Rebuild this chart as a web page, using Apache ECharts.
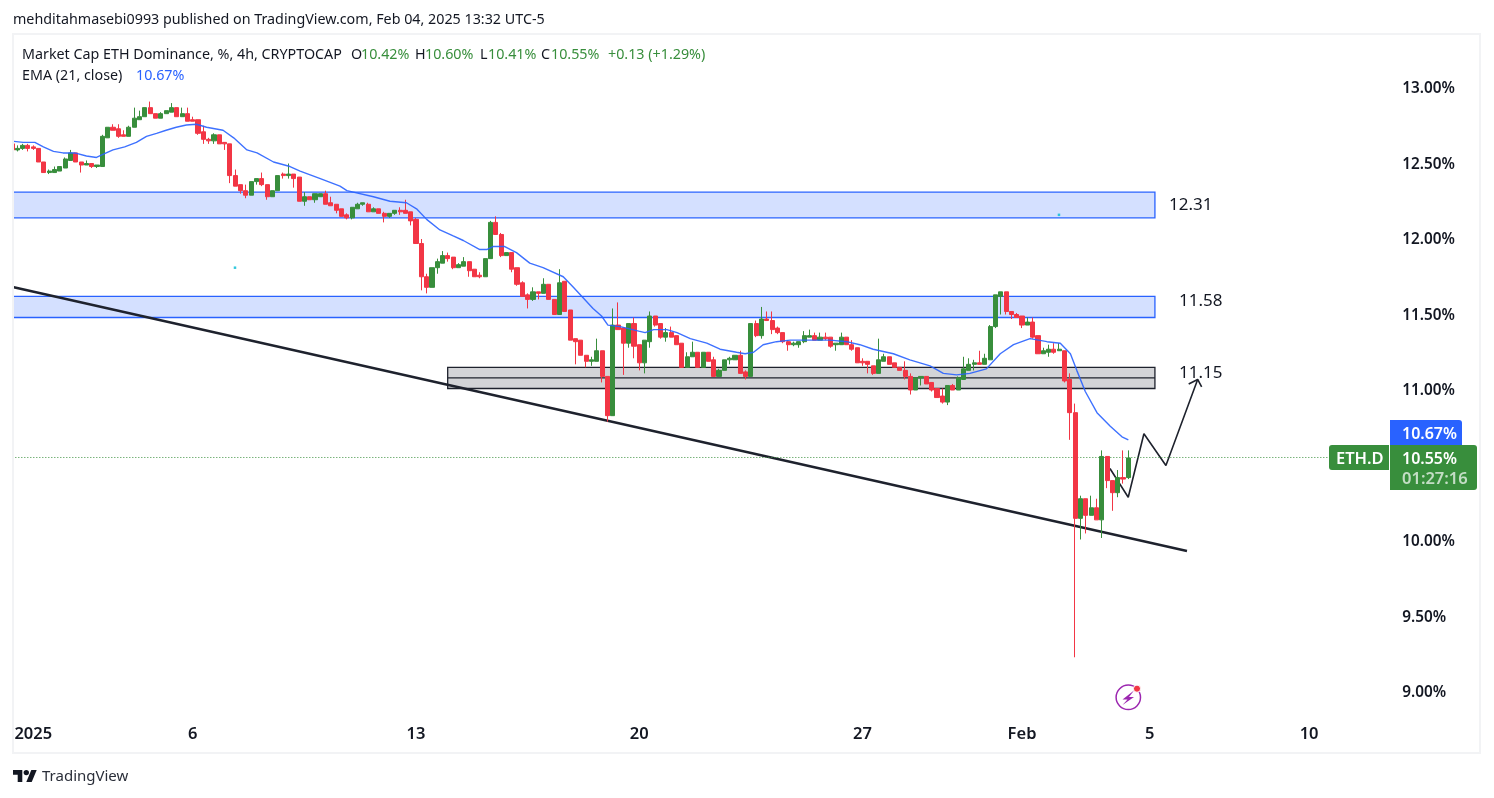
<!DOCTYPE html>
<html>
<head>
<meta charset="utf-8">
<title>ETH.D 4h</title>
<script src="https://cdn.jsdelivr.net/npm/echarts@6/dist/echarts.min.js"></script>
<style>
  html, body { margin: 0; padding: 0; background: #fff; }
  #chart { width: 1494px; height: 798px; }
</style>
</head>
<body>
<div id="chart"></div>
<script>
// 4h candles, bar 0 sits just left of the frame, Jan 1 is bar 4
var opens = [
  12.63,12.59,12.60,12.62,12.61,12.60,12.51,12.44,12.44,12.45,
  12.47,12.52,12.57,12.51,12.49,12.50,12.48,12.48,12.67,12.74,
  12.73,12.69,12.68,12.74,12.79,12.81,12.87,12.83,12.80,12.83,
  12.84,12.87,12.81,12.83,12.79,12.79,12.71,12.66,12.65,12.69,
  12.64,12.63,12.42,12.36,12.32,12.29,12.38,12.40,12.36,12.28,
  12.32,12.43,12.42,12.43,12.41,12.25,12.28,12.26,12.28,12.30,
  12.24,12.23,12.20,12.16,12.14,12.20,12.23,12.23,12.18,12.20,
  12.17,12.15,12.17,12.19,12.19,12.18,12.13,11.97,11.75,11.68,
  11.81,11.84,11.89,11.88,11.81,11.82,11.85,11.80,11.76,11.75,
  11.87,12.11,12.03,11.89,11.91,11.81,11.71,11.63,11.60,11.65,
  11.64,11.70,11.60,11.50,11.72,11.53,11.34,11.33,11.23,11.19,
  11.19,11.26,11.09,10.83,11.43,11.41,11.31,11.44,11.30,11.18,
  11.32,11.49,11.44,11.35,11.38,11.36,11.31,11.15,11.22,11.25,
  11.15,11.25,11.20,11.09,11.13,11.20,11.20,11.23,11.12,11.09,
  11.44,11.36,11.47,11.46,11.41,11.38,11.32,11.30,11.30,11.32,
  11.35,11.36,11.33,11.35,11.35,11.30,11.30,11.35,11.30,11.28,
  11.19,11.19,11.16,11.11,11.19,11.22,11.18,11.15,11.13,11.09,
  11.00,11.08,11.09,11.05,11.01,10.96,10.92,11.03,11.00,11.07,
  11.13,11.17,11.18,11.17,11.20,11.42,11.62,11.65,11.52,11.50,
  11.49,11.43,11.45,11.36,11.24,11.25,11.27,11.26,11.26,11.07,
  10.85,10.15,10.28,10.17,10.22,10.14,10.56,10.40,10.32,10.42,10.42
];
var closes = [
  12.59,12.60,12.62,12.60,12.60,12.51,12.44,12.45,12.46,12.48,
  12.53,12.57,12.51,12.49,12.50,12.48,12.49,12.68,12.74,12.72,
  12.68,12.68,12.74,12.80,12.81,12.87,12.83,12.80,12.83,12.85,
  12.87,12.81,12.83,12.78,12.78,12.70,12.66,12.65,12.69,12.63,
  12.63,12.42,12.35,12.32,12.29,12.38,12.40,12.36,12.28,12.32,
  12.42,12.42,12.43,12.40,12.25,12.28,12.26,12.30,12.30,12.23,
  12.22,12.19,12.15,12.14,12.21,12.23,12.24,12.18,12.20,12.17,
  12.15,12.17,12.19,12.18,12.17,12.12,11.97,11.75,11.68,11.81,
  11.85,11.89,11.87,11.81,11.83,11.85,11.79,11.75,11.75,11.87,
  12.11,12.03,11.89,11.91,11.80,11.70,11.62,11.60,11.65,11.64,
  11.70,11.60,11.50,11.71,11.52,11.33,11.32,11.23,11.19,11.20,
  11.26,11.09,10.83,11.43,11.40,11.31,11.44,11.29,11.18,11.33,
  11.49,11.43,11.35,11.38,11.35,11.30,11.15,11.22,11.25,11.15,
  11.25,11.19,11.09,11.13,11.20,11.21,11.23,11.11,11.09,11.44,
  11.36,11.47,11.46,11.40,11.38,11.32,11.30,11.31,11.32,11.36,
  11.36,11.33,11.35,11.34,11.29,11.31,11.35,11.30,11.27,11.18,
  11.18,11.17,11.11,11.20,11.22,11.17,11.15,11.13,11.09,11.00,
  11.08,11.09,11.04,11.00,10.95,10.92,11.03,11.00,11.08,11.14,
  11.17,11.18,11.17,11.21,11.42,11.63,11.65,11.52,11.50,11.48,
  11.43,11.45,11.35,11.24,11.26,11.27,11.25,11.27,11.06,10.85,
  10.15,10.28,10.17,10.22,10.14,10.56,10.40,10.32,10.42,10.41,10.55
];
var lows = [
  12.59,12.58,12.59,12.58,12.59,12.51,12.44,12.43,12.44,12.45,
  12.47,12.52,12.51,12.44,12.49,12.47,12.47,12.48,12.67,12.72,
  12.67,12.68,12.68,12.74,12.79,12.81,12.83,12.80,12.80,12.83,
  12.84,12.81,12.81,12.78,12.78,12.69,12.63,12.63,12.63,12.63,
  12.59,12.37,12.35,12.30,12.27,12.29,12.36,12.35,12.26,12.28,
  12.32,12.40,12.40,12.34,12.25,12.22,12.26,12.24,12.28,12.23,
  12.22,12.17,12.15,12.13,12.13,12.20,12.22,12.18,12.18,12.17,
  12.11,12.14,12.16,12.16,12.17,12.09,11.97,11.66,11.64,11.68,
  11.77,11.84,11.85,11.80,11.81,11.82,11.75,11.75,11.74,11.75,
  11.87,12.03,11.88,11.89,11.78,11.69,11.62,11.54,11.59,11.60,
  11.64,11.60,11.50,11.50,11.52,11.33,11.17,11.23,11.15,11.16,
  11.19,11.05,10.79,10.83,11.40,11.10,11.28,11.21,11.13,11.11,
  11.28,11.42,11.34,11.32,11.35,11.30,11.15,11.15,11.22,11.15,
  11.15,11.19,11.09,11.09,11.13,11.17,11.20,11.11,11.07,11.09,
  11.35,11.34,11.46,11.37,11.37,11.31,11.26,11.29,11.28,11.31,
  11.35,11.33,11.33,11.33,11.28,11.26,11.30,11.30,11.26,11.18,
  11.16,11.11,11.10,11.11,11.19,11.17,11.15,11.13,11.07,10.97,
  11.00,11.03,11.04,10.99,10.95,10.91,10.90,11.00,11.00,11.07,
  11.13,11.13,11.17,11.17,11.20,11.41,11.50,11.50,11.47,11.48,
  11.41,11.43,11.34,11.24,11.24,11.22,11.24,11.26,11.05,10.67,
  9.23,10.01,10.05,10.17,10.14,10.02,10.35,10.20,10.29,10.38,10.41
];
var highs = [
  12.63,12.62,12.63,12.63,12.62,12.60,12.51,12.46,12.48,12.48,
  12.54,12.59,12.57,12.51,12.52,12.50,12.49,12.69,12.74,12.76,
  12.76,12.72,12.75,12.87,12.85,12.87,12.91,12.83,12.84,12.85,
  12.90,12.87,12.87,12.87,12.81,12.79,12.75,12.67,12.70,12.69,
  12.64,12.63,12.46,12.36,12.36,12.38,12.40,12.44,12.36,12.32,
  12.42,12.44,12.50,12.43,12.41,12.31,12.28,12.30,12.30,12.32,
  12.28,12.23,12.20,12.17,12.21,12.24,12.24,12.24,12.21,12.20,
  12.18,12.17,12.19,12.21,12.26,12.18,12.14,12.00,11.77,11.81,
  11.87,11.92,11.91,11.88,11.84,11.88,11.85,11.80,11.78,11.87,
  12.12,12.15,12.04,11.91,11.91,11.81,11.72,11.64,11.68,11.65,
  11.74,11.70,11.60,11.80,11.72,11.53,11.34,11.33,11.23,11.22,
  11.34,11.26,11.09,11.54,11.58,11.41,11.44,11.48,11.30,11.33,
  11.52,11.49,11.44,11.41,11.42,11.36,11.31,11.25,11.32,11.25,
  11.25,11.25,11.22,11.14,11.20,11.22,11.23,11.26,11.13,11.44,
  11.46,11.55,11.52,11.52,11.42,11.38,11.33,11.32,11.32,11.39,
  11.40,11.38,11.38,11.38,11.35,11.31,11.38,11.35,11.33,11.28,
  11.21,11.19,11.16,11.34,11.24,11.22,11.18,11.15,11.19,11.11,
  11.08,11.09,11.09,11.05,11.01,11.01,11.03,11.04,11.09,11.22,
  11.21,11.20,11.26,11.24,11.43,11.63,11.65,11.65,11.52,11.51,
  11.49,11.48,11.48,11.36,11.28,11.30,11.31,11.31,11.26,11.11,
  10.91,10.30,10.28,10.30,10.28,10.60,10.56,10.40,10.47,10.60,10.60
];

// EMA 21
var emaBars = [-0.5,2.1,4.3,5.9,7.8,9.6,11.8,14,15.9,17.1,19,21.2,23.4,25.3,27.2,29,30.9,32.8,34.7,36.6,39.7,41.7,44.2,46.1,49.2,52.3,54.2,58,61.7,
  63,68,71.1,74.2,76.1,78,80.5,83,84.9,88,89.3,90.5,92.7,94.9,97.4,99.9,103.7,105.6,109.3,110.9,112.1,114.4,
  117.9,119.1,120.7,123.2,125.1,127.6,130.7,133.2,136.3,137.9,139.5,141.3,143.8,146.4,150.1,153.9,157,159.5,162,165.8,168.9,172.7,
  175.2,177.7,180.2,183.3,185.9,188.4,191.5,194.7,197.2,199.1,200.3,201.9,204.1,206.6,208.8,210];
var emaValues = [12.65,12.64,12.64,12.61,12.58,12.57,12.57,12.55,12.54,12.56,12.59,12.61,12.64,12.68,12.70,12.72,12.74,12.755,12.76,12.74,12.72,12.67,12.59,12.57,12.51,12.48,12.45,12.40,12.35,
  12.32,12.28,12.25,12.24,12.20,12.13,12.06,12.02,11.99,11.93,11.93,11.95,11.95,11.91,11.84,11.81,11.75,11.68,11.54,11.49,11.43,11.42,
  11.39,11.38,11.40,11.40,11.38,11.34,11.31,11.27,11.25,11.24,11.25,11.30,11.32,11.33,11.33,11.33,11.32,11.30,11.27,11.24,11.20,11.16,
  11.11,11.10,11.11,11.14,11.24,11.30,11.34,11.32,11.31,11.24,11.13,10.99,10.85,10.76,10.69,10.67];

// x axis
var tickBars = [4,34,76,118,160,190,214,244];
var tickLabels = ['2025','6','13','20','27','Feb','5','10'];
var barCount = 259;

// zones and drawings, x in bars, y in price
var blueZoneTops = [12.31,11.62];
var blueZoneBottoms = [12.14,11.48];
var zoneEndBar = 215;
var grayZoneStart = 81.96;
var grayZone = [11.15,11.08,11.01];
var trendBars = [-0.5,221.03];
var trendValues = [11.687,9.934];
var pathBars = [206.54,209.98,212.93,217.07,223.04];
var pathValues = [10.48,10.29,10.71,10.50,11.07];
var headBars = [221.35,223.04,223.79];
var headValues = [11.04,11.07,11.02];
var dotBars = [41.95,196.95];
var dotValues = [11.81,12.16];
var lastPrice = 10.553;

var FONT = '"Noto Sans", sans-serif';
var UP = '#388e3c', DOWN = '#f23645', BLUE = '#2962ff', INK = '#131722';

function pairs(xs, ys) {
  return xs.map(function (x, i) { return [x, ys[i]]; });
}
function text(t, x, y, color, size, weight) {
  return {
    type: 'text', z: 110, x: x, y: y, silent: true,
    style: { text: t, fill: color, font: (weight || 400) + ' ' + size + 'px ' + FONT, verticalAlign: 'middle', align: 'left' }
  };
}
function drawing(xs, ys, width, color) {
  return {
    type: 'line', xAxisIndex: 1, data: pairs(xs, ys), symbol: 'none', z: 2, silent: true, animation: false,
    lineStyle: { width: width, color: color }
  };
}

var candleData = opens.map(function (o, i) { return [o, closes[i], lows[i], highs[i]]; });
var categories = [];
for (var b = 0; b < barCount; b++) categories.push(String(b));

var zoneAreas = [];
blueZoneTops.forEach(function (top, i) {
  zoneAreas.push([
    { coord: [-0.5, top], itemStyle: { color: 'rgba(41,98,255,0.2)', borderColor: BLUE, borderWidth: 1.3 } },
    { coord: [zoneEndBar, blueZoneBottoms[i]] }
  ]);
});
zoneAreas.push([
  { coord: [grayZoneStart, grayZone[0]], itemStyle: { color: 'rgba(120,123,134,0.33)', borderColor: '#1e222d', borderWidth: 1.3 } },
  { coord: [zoneEndBar, grayZone[2]] }
]);

var chart = echarts.init(document.getElementById('chart'), null, { renderer: 'canvas' });
chart.setOption({
  animation: false,
  backgroundColor: '#fff',
  textStyle: { fontFamily: FONT },
  grid: { left: 9.33, top: 88, width: 1376.84, height: 604 },
  xAxis: [
    {
      type: 'category', data: categories, boundaryGap: true,
      axisLine: { show: false }, axisTick: { show: false }, splitLine: { show: false },
      axisLabel: {
        margin: 34, color: INK, fontSize: 16.5, fontWeight: 600, fontFamily: FONT,
        interval: function (index) { return tickBars.indexOf(index) >= 0; },
        formatter: function (v) { return tickLabels[tickBars.indexOf(+v)]; }
      }
    },
    { type: 'value', min: -0.5, max: barCount - 0.5, show: false }
  ],
  yAxis: {
    type: 'value', min: 9, max: 13, interval: 0.5, position: 'right',
    axisLine: { show: false }, axisTick: { show: false }, splitLine: { show: false },
    axisLabel: {
      margin: 16, color: INK, fontSize: 15.3, fontWeight: 600, fontFamily: FONT, verticalAlign: 'top', lineHeight: 2,
      formatter: function (v) { return v === 10.5 ? '' : v.toFixed(2) + '%'; }
    }
  },
  series: [
    {
      type: 'line', xAxisIndex: 1, data: [], z: 1, silent: true,
      markArea: { silent: true, label: { show: false }, data: zoneAreas }
    },
    drawing([grayZoneStart, zoneEndBar], [grayZone[1], grayZone[1]], 1.3, '#1e222d'),
    drawing(trendBars, trendValues, 2.4, '#1e222d'),
    drawing(pathBars, pathValues, 1.6, '#1e222d'),
    drawing(headBars, headValues, 1.6, '#1e222d'),
    {
      type: 'line', xAxisIndex: 1, data: [[-0.5, lastPrice], [247.75, lastPrice]], symbol: 'none', z: 2, silent: true,
      lineStyle: { width: 1, color: UP, type: [1, 2] }
    },
    {
      type: 'candlestick', data: candleData, barWidth: 4.6, z: 3, silent: true,
      itemStyle: { color: UP, color0: DOWN, borderColor: UP, borderColor0: DOWN, borderWidth: 1 }
    },
    {
      type: 'line', xAxisIndex: 1, data: pairs(emaBars, emaValues), symbol: 'none', z: 4, silent: true,
      lineStyle: { width: 1.4, color: BLUE, opacity: 0.9 }
    },
    {
      type: 'scatter', xAxisIndex: 1, data: pairs(dotBars, dotValues), symbol: 'rect', symbolSize: 2.5, z: 4, silent: true,
      itemStyle: { color: '#00bcd4' }
    }
  ],
  graphic: { elements: [
    // frame sits above the clipped first bar
    { type: 'rect', z: 100, silent: true, shape: { x: 0, y: 0, width: 12, height: 798 }, style: { fill: '#fff' } },
    { type: 'rect', z: 101, silent: true, shape: { x: 13, y: 34, width: 1467, height: 719 }, style: { fill: 'none', stroke: '#f2f3f5', lineWidth: 2 } },

    text('mehditahmasebi0993 published on TradingView.com, Feb 04, 2025 13:32 UTC-5', 13, 20, INK, 14.3),
    text('Market Cap ETH Dominance, %, 4h, CRYPTOCAP', 22, 55, INK, 14.3),
    text('O', 351, 55, INK, 14.3), text('10.42%', 361, 55, UP, 14.3),
    text('H', 415, 55, INK, 14.3), text('10.60%', 425, 55, UP, 14.3),
    text('L', 480, 55, INK, 14.3), text('10.41%', 488, 55, UP, 14.3),
    text('C', 541, 55, INK, 14.3), text('10.55%', 551, 55, UP, 14.3),
    text('+0.13 (+1.29%)', 608, 55, UP, 14.3),
    text('EMA (21, close)', 22, 76, INK, 14.3), text('10.67%', 136, 76, BLUE, 14.3),

    text('12.31', 1169, 205, INK, 17), text('11.58', 1179, 301, INK, 17), text('11.15', 1179, 373, INK, 17),

    // price tags
    { type: 'rect', z: 105, silent: true, shape: { x: 1390, y: 420, width: 72, height: 25, r: [0, 3, 0, 0] }, style: { fill: BLUE } },
    { type: 'rect', z: 105, silent: true, shape: { x: 1390, y: 445, width: 87, height: 45, r: [0, 3, 3, 0] }, style: { fill: UP } },
    { type: 'rect', z: 105, silent: true, shape: { x: 1329, y: 445, width: 60, height: 25, r: [3, 0, 0, 3] }, style: { fill: UP } },
    text('10.67%', 1402, 434, '#fff', 16, 600),
    text('ETH.D', 1336, 459, '#fff', 16.5, 600),
    text('10.55%', 1402, 459, '#fff', 16, 600),
    text('01:27:16', 1402, 479, 'rgba(255,255,255,0.7)', 16.5, 600),

    // bolt icon
    { type: 'circle', z: 105, silent: true, shape: { cx: 1128.3, cy: 697.3, r: 12.2 }, style: { fill: '#fff', stroke: '#9c27b0', lineWidth: 1.5 } },
    { type: 'polygon', z: 106, silent: true, shape: { points: [[1134, 690.5], [1122.5, 699.5], [1127.5, 699.5], [1122.5, 705], [1134, 697], [1129, 697]] }, style: { fill: '#9c27b0' } },
    { type: 'circle', z: 106, silent: true, shape: { cx: 1137, cy: 688.7, r: 3.6 }, style: { fill: DOWN, stroke: '#fff', lineWidth: 1 } },

    // TradingView mark
    { type: 'polygon', z: 105, silent: true, shape: { points: [[13, 770], [22.3, 770], [22.3, 782], [17.7, 782], [17.7, 774.7], [13, 774.7]] }, style: { fill: INK } },
    { type: 'polygon', z: 105, silent: true, shape: { points: [[31.3, 770], [36.7, 770], [31.7, 782], [26.3, 782]] }, style: { fill: INK } },
    { type: 'circle', z: 105, silent: true, shape: { cx: 26.3, cy: 772.6, r: 2.67 }, style: { fill: INK } },
    text('TradingView', 42, 777, '#2a2e39', 15)
  ] }
});
</script>
</body>
</html>
